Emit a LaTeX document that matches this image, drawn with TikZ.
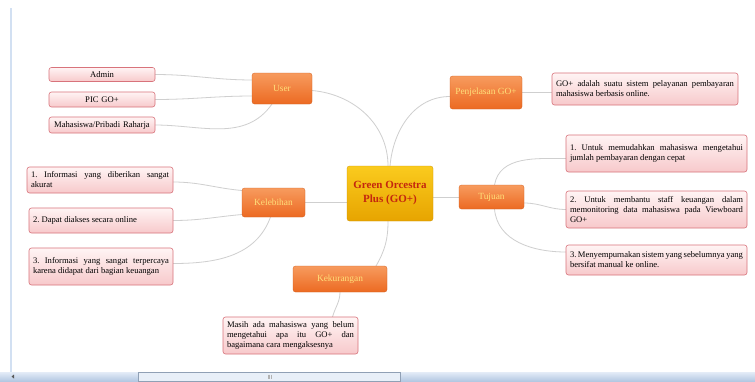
\documentclass[tikz,border=0pt]{standalone}
\usepackage{fontspec}
\setmainfont{Liberation Serif}
\frenchspacing
\definecolor{linkgray}{HTML}{CFCFCF}
\definecolor{orgtop}{HTML}{F79B5E}
\definecolor{orgbot}{HTML}{EC6A22}
\definecolor{orgtext}{HTML}{FFE07A}
\definecolor{goldtop}{HTML}{FACB1E}
\definecolor{goldbot}{HTML}{E7A400}
\definecolor{redtext}{HTML}{C4260E}
\definecolor{pinktop}{HTML}{FFF4F4}
\definecolor{pinkbot}{HTML}{F7C9CB}
\definecolor{pinkdraw}{HTML}{D8737B}
\definecolor{barblue}{HTML}{D2E0F2}
\definecolor{barblue2}{HTML}{B4C8E2}
\tikzset{
  topic/.style={rectangle, rounded corners=2.5pt, top color=orgtop, bottom color=orgbot,
    draw=orgbot!90!black, line width=0.3pt, text=orgtext, font=\fontsize{9.4}{11}\selectfont,
    inner sep=2pt, align=center},
  central/.style={rectangle, rounded corners=2.5pt, top color=goldtop, bottom color=goldbot,
    draw=goldbot!90!black, line width=0.3pt, text=redtext, font=\fontsize{11}{14}\selectfont\bfseries,
    inner sep=2pt, align=center},
  leaf/.style={rectangle, rounded corners=2.5pt, top color=pinktop, bottom color=pinkbot,
    draw=pinkdraw, line width=0.6pt, text=black, font=\fontsize{8.6}{10}\selectfont,
    inner xsep=4pt, inner ysep=1pt, align=justify},
  leafc/.style={leaf, align=center},
  link/.style={draw=linkgray, line width=0.8pt}
}
\begin{document}
\begin{tikzpicture}[x=1pt,y=-1pt]
\useasboundingbox (0,0) rectangle (755,381);
\fill[white] (0,0) rectangle (755,381);
% window frame
\fill[barblue] (10,8) rectangle (11.8,372);
\fill[top color=barblue!60, bottom color=barblue2] (0,372) rectangle (755,381);
\draw[barblue2!80!black, fill=barblue!50, line width=0.4pt] (138,372.5) rectangle (400,381);
\fill[gray!70!black] (14,374.5) -- (14,378.5) -- (11.5,376.5) -- cycle;
\draw[gray!60, line width=0.4pt] (268,374.5) -- (268,379) (269.5,374.5) -- (269.5,379) (271,374.5) -- (271,379);

% connectors
\path[link] (253,80) to[out=180,in=0] (155,74.5);
\path[link] (253,96) to[out=180,in=0] (155,99.5);
\path[link] (272,104) to[out=235,in=0] (155,125);
\path[link] (312,90.5) to[out=-5,in=90] (388,166);
\path[link] (450,96.5) to[out=180,in=85] (390,166);
\path[link] (305,202.5) -- (347,202.5);
\path[link] (459,197) -- (433,197);
\path[link] (388,221) to[out=270,in=60] (376,266);
\path[link] (522,92.5) -- (552,92.5);
\path[link] (494.5,185) to[out=80,in=180] (566,158.5);
\path[link] (524,203) to[out=0,in=180] (566,209.5);
\path[link] (494.5,209) to[out=275,in=180] (566,252);
\path[link] (242,190.5) to[out=175,in=0] (173,182);
\path[link] (242,214.5) to[out=185,in=0] (173,220.5);
\path[link] (270.5,217) to[out=250,in=0] (173,263.5);
\path[link] (340,292) to[out=270,in=75] (332.5,317);

% nodes
\node[central, minimum width=86pt, minimum height=55pt] (center) at (390,193.5) {Green Orcestra\\Plus (GO+)};

\node[topic, minimum width=60pt, minimum height=31pt] (user) at (282,88.5) {User};
\node[topic, minimum width=72pt, minimum height=33pt] (penj) at (486,92.5) {Penjelasan GO+};
\node[topic, minimum width=65pt, minimum height=24pt] (tuj) at (491.5,197) {Tujuan};
\node[topic, minimum width=63pt, minimum height=29pt] (keleb) at (273.5,202.5) {Kelebihan};
\node[topic, minimum width=94pt, minimum height=26pt] (kek) at (340,279) {Kekurangan};

\node[leafc, text width=98pt, minimum height=14pt] (admin) at (102,74.5) {Admin};
\node[leafc, text width=98pt, minimum height=15pt] (pic) at (102,99.5) {PIC GO+};
\node[leafc, text width=98pt, minimum height=16pt] (mhs) at (102,125) {Mahasiswa/Pribadi Raharja};

\node[leaf, text width=178pt, minimum height=32pt] (desc) at (645,89) {GO+ adalah suatu sistem pelayanan pembayaran\linebreak mahasiswa berbasis online.};

\node[leaf, text width=173pt, minimum height=37pt] (t1) at (656.5,153.5) {1. Untuk memudahkan mahasiswa mengetahui\linebreak jumlah pembayaran dengan cepat};
\node[leaf, text width=173pt, minimum height=37pt] (t2) at (656.5,209.5) {2. Untuk membantu staff keuangan dalam\linebreak memonitoring data mahasiswa pada Viewboard\linebreak GO+};
\node[leaf, text width=173pt, minimum height=30pt] (t3) at (656.5,260) {3. Menyempurnakan sistem yang sebelumnya yang\linebreak bersifat manual ke online.};

\node[leaf, text width=138pt, minimum height=26pt] (k1) at (100,180) {1. Informasi yang diberikan sangat\linebreak akurat};
\node[leaf, text width=136pt, minimum height=25pt] (k2) at (101,220.5) {2. Dapat diakses secara online};
\node[leaf, text width=136pt, minimum height=37pt] (k3) at (101,266.5) {3. Informasi yang sangat terpercaya\linebreak karena didapat dari bagian keuangan};

\node[leaf, text width=127pt, minimum height=37pt] (kekbox) at (290.5,335.5) {Masih ada mahasiswa yang belum\linebreak mengetahui apa itu GO+ dan\linebreak bagaimana cara mengaksesnya};
\end{tikzpicture}
\end{document}
